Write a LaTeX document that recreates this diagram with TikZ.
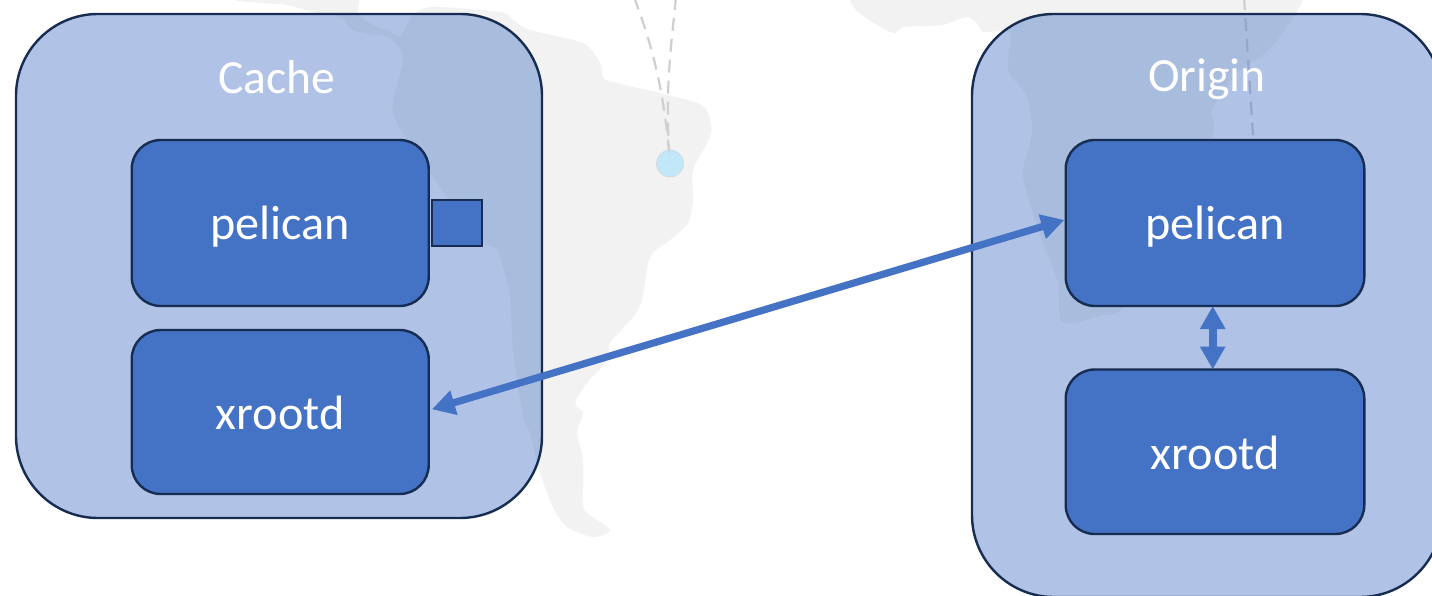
\documentclass[tikz,border=0pt]{standalone}
\usepackage{fontspec}
\setmainfont{Carlito}
\usetikzlibrary{arrows.meta}
\definecolor{boxblue}{HTML}{4472C4}
\definecolor{boxline}{HTML}{172C51}
\definecolor{mapgray}{HTML}{F2F2F2}
\definecolor{routegray}{HTML}{CFCFCF}
\definecolor{sitefill}{HTML}{BDE6F9}
\tikzset{
  panel/.style={rectangle,draw=boxline,line width=2.4pt,fill=boxblue,fill opacity=0.42,draw opacity=1,
    rounded corners=82pt,inner sep=0pt,outer sep=0pt},
  service/.style={rectangle,draw=boxline,line width=2.4pt,fill=boxblue,rounded corners=29pt,
    inner sep=0pt,outer sep=0pt,text=white,font=\fontsize{48.2}{48}\selectfont,
    minimum width=#1,text depth=0pt},
  service/.default=297pt,
  paneltitle/.style={anchor=base,text=white,inner sep=0pt,font=\fontsize{47.6}{48}\selectfont},
  flow/.style={draw=boxblue,{Triangle[length=23pt,width=24pt,fill=boxblue]}-{Triangle[length=23pt,width=24pt,fill=boxblue]},shorten <=0pt,shorten >=0pt},
  landmass/.style={fill=mapgray,draw=none},
  route/.style={draw=routegray,line width=2.2pt,dash pattern=on 13pt off 8pt},
}
\begin{document}
\begin{tikzpicture}[x=1pt,y=-1pt]
\clip (0,0) rectangle (1432,596);
\fill[white] (0,0) rectangle (1432,596);
% map
\fill[landmass] plot[smooth cycle,tension=0.45] coordinates {
 (231,-2) (260,3) (287,5) (317,13) (340,17) (353,30) (377,35) (390,38) (403,57) (393,103) (397,123)
 (430,173) (480,240) (497,250) (510,297) (513,350) (523,417) (530,433) (538,467) (553,507) (567,527)
 (593,537) (610,530) (587,513) (583,503) (583,460) (577,433) (583,413) (575,403) (587,383) (607,360)
 (610,343) (633,317) (642,300) (650,257) (670,240) (688,223) (693,200) (693,170) (710,137) (710,120)
 (697,103) (613,82) (603,77) (600,63) (583,43) (530,30) (513,20) (500,12) (433,7) (413,15) (400,36)
 (388,30) (377,27) (358,14) (356,-4) (300,-20)};
\fill[landmass] plot[smooth cycle,tension=0.45] coordinates {
 (850,-3) (858,12) (892,33) (904,27) (942,25) (966,17) (977,23) (983,32) (1010,33) (1008,70) (1027,97)
 (1032,133) (1023,177) (1042,240) (1058,283) (1060,320) (1073,323) (1103,315) (1123,307) (1180,220)
 (1213,133) (1212,110) (1237,73) (1260,57) (1280,37) (1303,0) (1310,-30) (1100,-40) (860,-30)};
\draw[route] (634,-3) .. controls (650,40) and (664,85) .. (670,163);
\draw[route] (676,-3) .. controls (672,40) and (664,90) .. (670,163);
\draw[route] (1244,-3) -- (1253,135);
\node[circle,minimum size=27pt,inner sep=0pt,fill=sitefill,fill opacity=.9,draw=routegray,draw opacity=.5,line width=1pt] (site) at (670,163.5) {};
% panels
\node[panel,minimum width=526pt,minimum height=504pt] (cachepanel) at (279,266) {};
\node[panel,minimum width=470pt,minimum height=583pt] (originpanel) at (1207,305.5) {};
\node[paneltitle] (cachetitle) at (277,94) {Cache};
\node[paneltitle] (origintitle) at (1207,91.5) {Origin};
% services
\node[service=297pt,minimum height=166pt,text height=33pt] (cachepelican) at (280.2,223) {pelican};
\node[service=297pt,minimum height=164pt,text height=34pt] (cachexrootd) at (280.2,412) {xrootd};
\node[rectangle,draw=boxline,line width=2.4pt,fill=boxblue,minimum width=50pt,minimum height=46pt,inner sep=0pt,outer sep=0pt] (cachebox) at (457,223) {};
\node[service=298.6pt,minimum height=166pt,text height=33pt] (originpelican) at (1215,223) {pelican};
\node[service=298.6pt,minimum height=164.5pt,text height=34.5pt] (originxrootd) at (1215,451.75) {xrootd};
% connectors
\draw[flow,line width=7.2pt] ([shift={(3.2,-2.7)}]cachexrootd.east) -- ([shift={(-1.4,-3)}]originpelican.west);
\draw[flow,line width=8pt] ([xshift=-2.3pt]originpelican.south) -- ([xshift=-2.3pt]originxrootd.north);
\end{tikzpicture}
\end{document}
